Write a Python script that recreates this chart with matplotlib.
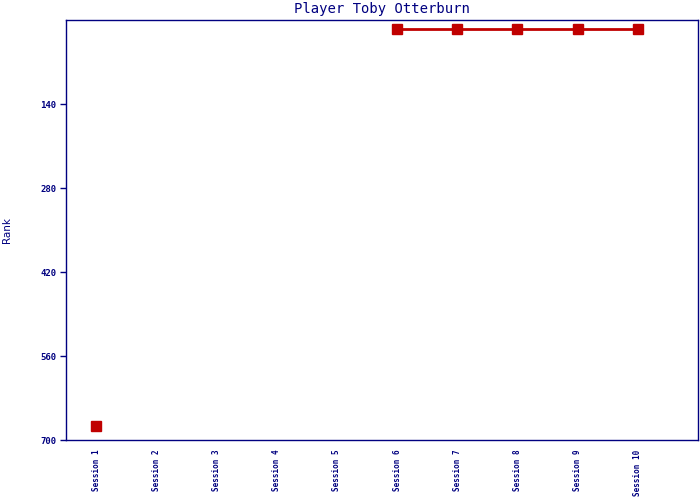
import numpy as np
import matplotlib
matplotlib.use("Agg")
import matplotlib.pyplot as plt

# data
sessions = ["Session 1", "Session 2", "Session 3", "Session 4", "Session 5",
            "Session 6", "Session 7", "Session 8", "Session 9", "Session 10"]
ranks = [676, None, None, None, None, 15, 15, 15, 15, 15]
ytick_vals = [140, 280, 420, 560, 700]

navy = "#000080"
red = "#c00000"

fig = plt.figure(figsize=(7, 5), dpi=100)
ax = fig.add_axes([66/700, 60/500, 632/700, 420/500])

x = np.arange(1, len(sessions) + 1)
y = np.array([np.nan if r is None else r for r in ranks], dtype=float)
ax.plot(x, y, color=red, lw=2, marker="s", ms=7, mec=red, mfc=red)

ax.set_xlim(0.5, 11)
ax.set_ylim(700, 0)
ax.set_yticks(ytick_vals)
ax.set_yticklabels([str(v) for v in ytick_vals], family="DejaVu Sans Mono",
                   fontsize=6.5, fontweight="bold", color=navy)
ax.set_xticks(x)
ax.set_xticklabels(sessions, rotation=90, family="DejaVu Sans Mono",
                   fontsize=5.5, fontweight="bold", color=navy)
ax.tick_params(axis="x", length=0, pad=7)
ax.tick_params(axis="y", length=4, color=navy, width=1, direction="out", pad=3)

for s in ax.spines.values():
  s.set_color(navy)
  s.set_linewidth(1)

ax.set_ylabel("Rank", fontsize=7.5, color=navy, labelpad=20)
ax.set_title("Player Toby Otterburn", family="DejaVu Sans Mono", fontsize=10,
             color=navy, pad=5)

fig.savefig("out.png", dpi=100)
